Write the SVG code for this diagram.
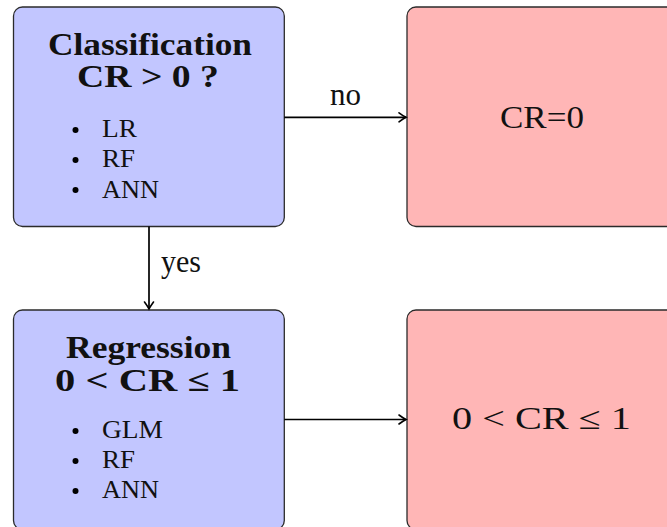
<svg xmlns="http://www.w3.org/2000/svg" width="667" height="527" viewBox="0 0 667 527">
<style>
.blue{fill:#c2c6ff;stroke:#2b2b2b;stroke-width:1.3}
.red{fill:#ffb6b6;stroke:#2b2b2b;stroke-width:1.3}
text{font-family:"Liberation Serif","Times New Roman",serif;fill:#111}
.t{font-size:31px;font-weight:bold}
.i{font-size:26px}
.l{font-size:32px}
.c{stroke:#000;stroke-width:1.7;fill:none}
</style>
<defs>
<marker id="ah" markerUnits="userSpaceOnUse" markerWidth="20" markerHeight="20" refX="0" refY="0" orient="auto" overflow="visible">
<path d="M-7,-4.5 Q-2.5,-1.2 0,0 Q-2.5,1.2 -7,4.5" fill="none" stroke="#000" stroke-width="1.6" stroke-linecap="round"/>
</marker>
</defs>
<g id="classification">
<rect class="blue" x="13.5" y="7" width="270.8" height="219.5" rx="9"/>
<text class="t" x="48" y="55" textLength="204" lengthAdjust="spacingAndGlyphs">Classification</text>
<text class="t" x="77" y="87" textLength="142" lengthAdjust="spacingAndGlyphs">CR &gt; 0 ?</text>
<circle cx="75.5" cy="130" r="3"/>
<text class="i" x="102" y="137" textLength="35" lengthAdjust="spacingAndGlyphs">LR</text>
<circle cx="75.5" cy="160" r="3"/>
<text class="i" x="102" y="167" textLength="33" lengthAdjust="spacingAndGlyphs">RF</text>
<circle cx="75.5" cy="190" r="3"/>
<text class="i" x="102" y="198" textLength="57" lengthAdjust="spacingAndGlyphs">ANN</text>
</g>
<g id="cr0">
<rect class="red" x="407" y="7" width="270.8" height="219.5" rx="9"/>
<text class="l" x="500" y="128" textLength="84" lengthAdjust="spacingAndGlyphs">CR=0</text>
</g>
<g id="regression">
<rect class="blue" x="13.5" y="310" width="270.8" height="219.5" rx="9"/>
<text class="t" x="66" y="358" textLength="165" lengthAdjust="spacingAndGlyphs">Regression</text>
<text class="t" x="55" y="391" textLength="185" lengthAdjust="spacingAndGlyphs">0 &lt; CR ≤ 1</text>
<circle cx="75.5" cy="431" r="3"/>
<text class="i" x="102" y="438" textLength="61" lengthAdjust="spacingAndGlyphs">GLM</text>
<circle cx="75.5" cy="461" r="3"/>
<text class="i" x="102" y="468" textLength="33" lengthAdjust="spacingAndGlyphs">RF</text>
<circle cx="75.5" cy="491" r="3"/>
<text class="i" x="102" y="498" textLength="57" lengthAdjust="spacingAndGlyphs">ANN</text>
</g>
<g id="cr01">
<rect class="red" x="407" y="310" width="270.8" height="219.5" rx="9"/>
<text class="l" x="452" y="429" textLength="179" lengthAdjust="spacingAndGlyphs">0 &lt; CR ≤ 1</text>
</g>
<g id="connectors">
<path class="c" d="M284.3,117.3 H406" marker-end="url(#ah)"/>
<text class="l" x="330" y="105" textLength="31" lengthAdjust="spacingAndGlyphs">no</text>
<path class="c" d="M149,226.5 V309" marker-end="url(#ah)"/>
<text class="l" x="161" y="272" textLength="40" lengthAdjust="spacingAndGlyphs">yes</text>
<path class="c" d="M284.3,419.5 H406" marker-end="url(#ah)"/>
</g>
</svg>
